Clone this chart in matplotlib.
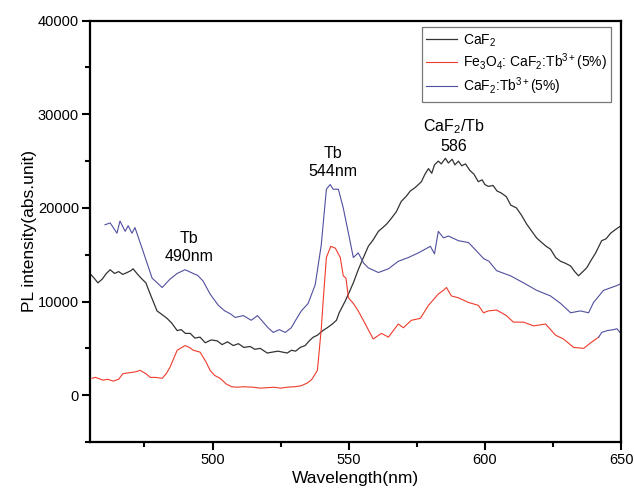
import matplotlib
matplotlib.use("Agg")
import matplotlib.pyplot as plt
from matplotlib.ticker import MultipleLocator

plt.rcParams["font.family"] = ["Liberation Sans", "DejaVu Sans"]
plt.rcParams["mathtext.fontset"] = "custom"
plt.rcParams["mathtext.rm"] = "Liberation Sans"
plt.rcParams["mathtext.it"] = "Liberation Sans"

# CaF2 (black)
caf2_wl = [455.4, 456.5, 457.9, 459.5, 461.0, 462.4, 464.0, 465.5, 467.0, 468.6,
           470.0, 470.8, 472.5, 474.1, 475.5, 477.1, 478.5, 479.6, 481.5, 483.3,
           485.0, 487.0, 488.5, 490.0, 491.8, 493.5, 495.4, 497.3, 499.5, 501.7,
           503.5, 505.5, 507.6, 509.5, 511.5, 513.8, 515.5, 517.5, 520.1, 522.0,
           524.0, 527.4, 529.0, 530.5, 532.2, 534.0, 535.5, 537.0, 538.5, 540.5,
           542.1, 544.0, 545.5, 546.5, 548.8, 550.5, 551.7, 553.5, 555.4, 557.2,
           559.0, 560.9, 562.5, 564.0, 565.7, 567.5, 569.3, 571.0, 572.6, 574.5,
           576.7, 578.0, 579.3, 580.5, 581.5, 582.9, 584.0, 585.5, 586.6, 588.0,
           589.0, 590.3, 591.5, 592.9, 594.5, 596.0, 597.6, 599.0, 600.0, 601.3,
           603.0, 604.5, 606.0, 607.9, 609.5, 611.6, 613.5, 615.3, 617.0, 619.0,
           620.5, 622.5, 624.1, 626.0, 627.8, 629.5, 631.5, 633.0, 634.4, 636.0,
           637.4, 639.0, 640.7, 642.9, 644.5, 646.2, 648.0, 650.0]
caf2_val = [12860, 12500, 12000, 12400, 13000, 13400, 13000, 13200, 12900, 13100,
            13300, 13500, 12900, 12400, 12000, 10800, 9800, 9000, 8600, 8200,
            7700, 6900, 7000, 6600, 6600, 6100, 6200, 5600, 5900, 5800,
            5400, 5700, 5300, 5500, 5100, 5200, 4900, 5000, 4500, 4600,
            4700, 4500, 4800, 4700, 5100, 5300, 5800, 6200, 6400, 6900,
            7200, 7600, 8000, 8800, 10100, 11200, 12000, 13400, 14700, 15900,
            16600, 17500, 17900, 18300, 18900, 19600, 20700, 21200, 21800, 22200,
            22800, 23600, 24200, 23700, 24600, 25000, 24700, 25300, 24800, 25200,
            24600, 25000, 24500, 24700, 24000, 23600, 22800, 23000, 22500, 22300,
            22400, 21800, 21600, 21200, 20300, 20000, 19200, 18300, 17600, 16800,
            16400, 15900, 15600, 14700, 14300, 14100, 13800, 13200, 12750, 13200,
            13600, 14400, 15200, 16500, 16700, 17300, 17700, 18100]

# Fe3O4: CaF2:Tb3+ (red)
fe_wl = [455.7, 457.0, 459.8, 461.5, 463.5, 465.5, 467.1, 469.5, 471.8, 473.4,
         475.5, 477.1, 479.0, 481.5, 483.0, 484.4, 487.0, 489.9, 491.5, 492.9,
         495.4, 497.5, 499.1, 500.8, 502.8, 505.0, 507.0, 509.0, 511.5, 514.9,
         517.5, 520.1, 522.5, 525.0, 527.4, 530.0, 532.5, 534.8, 536.5, 538.5,
         539.9, 540.7, 541.8, 543.4, 545.1, 546.9, 548.0, 549.0, 549.9, 551.7,
         553.5, 556.1, 559.0, 562.0, 564.6, 568.2, 570.1, 573.0, 576.3, 579.3,
         582.9, 584.8, 585.9, 587.7, 590.3, 594.0, 597.6, 599.5, 601.3, 604.3,
         607.9, 610.5, 614.2, 617.9, 622.3, 626.0, 628.9, 632.6, 636.3, 638.9,
         641.8]
fe_val = [1800, 1900, 1600, 1700, 1500, 1700, 2300, 2400, 2500, 2650,
          2300, 1900, 1900, 1800, 2300, 3000, 4800, 5300, 5100, 4800,
          4600, 3600, 2650, 2100, 1800, 1200, 900, 850, 900, 850,
          750, 800, 850, 750, 850, 900, 1000, 1300, 1700, 2650,
          7000, 10400, 14700, 15900, 15700, 14700, 12750, 12500, 10400, 9800,
          9000, 7600, 6000, 6600, 6200, 7600, 7200, 8000, 8200, 9600,
          10800, 11200, 11500, 10600, 10400, 9900, 9600, 8800, 9000, 9100,
          8500, 7800, 7800, 7400, 7600, 6400, 6000, 5100, 5000, 5600,
          6200]
# end of the red trace, drawn in blue in the original
fe_tail_wl = [641.8, 642.9, 645.0, 647.3, 648.5, 649.9]
fe_tail_val = [6200, 6700, 6900, 7000, 7100, 6600]

# CaF2:Tb3+ (blue)
tb_wl = [460.5, 462.4, 464.9, 466.0, 467.9, 469.0, 470.4, 471.5, 474.1, 477.8,
         481.5, 484.4, 487.0, 489.9, 492.9, 494.5, 496.5, 499.1, 502.1, 504.5,
         506.5, 508.3, 511.3, 514.2, 516.5, 518.6, 520.4, 522.3, 524.5, 526.7,
         528.9, 530.5, 532.6, 535.1, 537.7, 539.9, 541.8, 543.2, 544.3, 546.2,
         548.0, 549.9, 551.7, 553.5, 555.5, 557.2, 560.9, 564.6, 568.2, 571.9,
         575.6, 580.0, 581.5, 582.9, 584.8, 586.6, 590.3, 594.0, 597.6, 599.5,
         601.5, 604.3, 609.4, 614.2, 619.0, 624.1, 627.8, 631.5, 635.1, 638.1,
         639.9, 643.6, 648.4, 649.9]
tb_val = [18200, 18400, 17300, 18600, 17500, 18100, 17300, 17900, 15700, 12500,
          11500, 12400, 13000, 13400, 13000, 12800, 12200, 10800, 9600, 9000,
          8700, 8300, 8500, 8000, 8500, 7800, 7200, 6700, 7000, 6700,
          7200, 8000, 9000, 9800, 11800, 16000, 22000, 22500, 22000, 22000,
          20000, 17300, 14700, 15200, 14100, 13600, 13100, 13500, 14300, 14700,
          15200, 15900, 15100, 17500, 16800, 17000, 16500, 16300, 15200, 14600,
          14300, 13300, 12750, 12000, 11200, 10600, 9800, 8800, 9000, 8800,
          9900, 11200, 11700, 11900]

labels = [r"CaF$_2$", r"Fe$_3$O$_4$: CaF$_2$:Tb$^{3+}$(5%)", r"CaF$_2$:Tb$^{3+}$(5%)"]
colors = ["#333333", "#ee3b2b", "#4f4f9f"]

fig = plt.figure(figsize=(6.34, 4.96), dpi=100)
ax = fig.add_axes([0.142, 0.1089, 0.8375, 0.8494])

ax.plot(caf2_wl, caf2_val, color=colors[0], lw=0.9, label=labels[0])
ax.plot(fe_wl, fe_val, color=colors[1], lw=0.8, label=labels[1])
ax.plot(fe_tail_wl, fe_tail_val, color=colors[2], lw=0.8)
ax.plot(tb_wl, tb_val, color=colors[2], lw=0.8, label=labels[2])

# peak labels
ax.text(491.5, 15750, "Tb\n490nm", ha="center", va="center", fontsize=11.5, linespacing=1.25)
ax.text(544.2, 24900, "Tb\n544nm", ha="center", va="center", fontsize=11.5, linespacing=1.25)
ax.text(588.5, 27700, "CaF$_2$/Tb\n586", ha="center", va="center", fontsize=11.5, linespacing=1.3)

ax.set_xlim(455, 650)
ax.set_ylim(-5000, 40000)
ax.xaxis.set_major_locator(MultipleLocator(50))
ax.xaxis.set_minor_locator(MultipleLocator(25))
ax.yaxis.set_major_locator(MultipleLocator(10000))
ax.yaxis.set_minor_locator(MultipleLocator(5000))

for s in ax.spines.values():
    s.set_linewidth(1.6)
ax.tick_params(which="major", direction="out", length=5.5, width=1.5, labelsize=10.5, pad=2.5)
ax.tick_params(which="minor", direction="out", length=3.5, width=1.5)
ax.tick_params(top=False, right=False, which="both")

ax.set_xlabel("Wavelength(nm)", fontsize=12.5, labelpad=3)
ax.set_ylabel("PL intensity(abs.unit)", fontsize=12.5, labelpad=0.5)

leg = ax.legend(loc="upper right", bbox_to_anchor=(0.982, 0.984), fontsize=10,
                frameon=True, fancybox=False, edgecolor="#555555",
                handlelength=2.2, handletextpad=0.4, labelspacing=0.18,
                borderpad=0.35, borderaxespad=0)
leg.get_frame().set_linewidth(0.9)

fig.savefig("out.png", dpi=100)
